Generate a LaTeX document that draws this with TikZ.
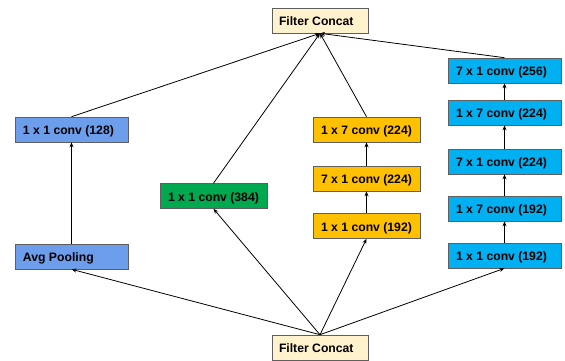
\documentclass[tikz,border=0pt]{standalone}
\usepackage{fontspec}
\setmainfont{Liberation Sans}
\usetikzlibrary{arrows.meta}
\definecolor{fcfill}{HTML}{FFF2CC}
\definecolor{poolblue}{HTML}{6D9EEB}
\definecolor{convgreen}{HTML}{00A84F}
\definecolor{convamber}{HTML}{FFC000}
\definecolor{convcyan}{HTML}{00B0F0}
\definecolor{edgegrey}{HTML}{5F5F5F}
% left-aligned label of fixed width inside a box
\newcommand\boxtxt[2]{\makebox[#1][l]{#2}}
\tikzset{
  blk/.style={draw=edgegrey, line width=0.6pt, inner xsep=8pt, inner ysep=0pt,
    minimum height=25pt, anchor=center, text height=10pt, text depth=0pt,
    font=\fontsize{12.2}{14}\selectfont\bfseries},
  concatbox/.style={blk, fill=fcfill, inner xsep=7pt},
  widebox/.style={blk},
  narrowbox/.style={blk},
  flow/.style={-{Stealth[length=5pt,width=4pt]}, line width=0.8pt, black}
}
\begin{document}
\begin{tikzpicture}[x=1pt, y=-1pt]
\useasboundingbox (0,0) rectangle (565,360);
\clip (0,0) rectangle (565,360);

% input and output concatenation
\node[concatbox] (top) at (320,20.5) {\boxtxt{82pt}{Filter Concat}};
\node[concatbox] (bot) at (320,347.5) {\boxtxt{82pt}{Filter Concat}};

% pooling branch
\node[widebox, fill=poolblue] (pool) at (71.5,256.5) {\boxtxt{97pt}{Avg Pooling}};
\node[widebox, fill=poolblue] (p1) at (71.5,129.5) {\boxtxt{97pt}{1 x 1 conv (128)}};

% single 1x1 branch
\node[narrowbox, fill=convgreen] (g1) at (213.5,196) {\boxtxt{91pt}{1 x 1 conv (384)}};

% factorised 7x7 branch
\node[narrowbox, fill=convamber] (y1) at (366.5,226) {\boxtxt{91pt}{1 x 1 conv (192)}};
\node[narrowbox, fill=convamber] (y2) at (366.5,178.5) {\boxtxt{91pt}{7 x 1 conv (224)}};
\node[narrowbox, fill=convamber] (y3) at (366.5,129.5) {\boxtxt{91pt}{1 x 7 conv (224)}};

% double factorised 7x7 branch
\node[widebox, fill=convcyan] (c1) at (504.5,255.5) {\boxtxt{97pt}{1 x 1 conv (192)}};
\node[widebox, fill=convcyan] (c2) at (504.5,208.5) {\boxtxt{97pt}{1 x 7 conv (192)}};
\node[widebox, fill=convcyan] (c3) at (504.5,161.5) {\boxtxt{97pt}{7 x 1 conv (224)}};
\node[widebox, fill=convcyan] (c4) at (504.5,112.5) {\boxtxt{97pt}{1 x 7 conv (224)}};
\node[widebox, fill=convcyan] (c5) at (504.5,70.5) {\boxtxt{97pt}{7 x 1 conv (256)}};

% fan-out from the input
\draw[flow] (bot.north) -- (pool.south);
\draw[flow] (bot.north) -- (g1.south);
\draw[flow] (bot.north) -- (y1.south);
\draw[flow] (bot.north) -- (c1.south);

% branch chains
\draw[flow] (pool) -- (p1);
\draw[flow] (y1) -- (y2);
\draw[flow] (y2) -- (y3);
\draw[flow] (c1) -- (c2);
\draw[flow] (c2) -- (c3);
\draw[flow] (c3) -- (c4);
\draw[flow] (c4) -- (c5);

% fan-in to the output
\draw[flow] (p1.north) -- (top.south);
\draw[flow] (g1.north) -- (top.south);
\draw[flow] (y3.north) -- (top.south);
\draw[flow] (c5.north) -- (top.south);
\end{tikzpicture}
\end{document}
